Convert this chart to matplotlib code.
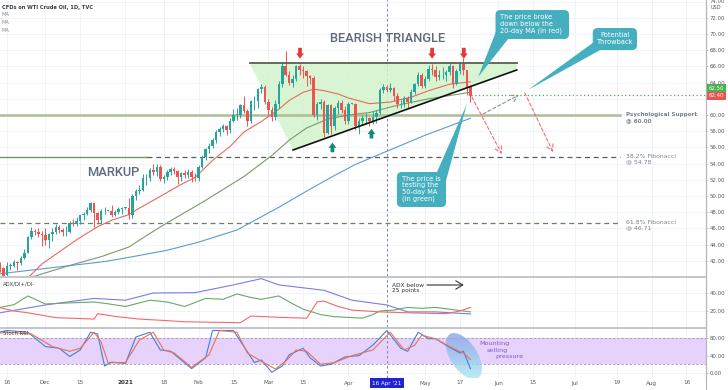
import numpy as np
import matplotlib
matplotlib.use("Agg")
import matplotlib.pyplot as plt
from matplotlib.patches import Polygon, Ellipse, FancyBboxPatch
from matplotlib.lines import Line2D
import matplotlib.transforms as mtrans
from matplotlib.colors import LinearSegmentedColormap

plt.rcParams['font.family'] = ['DejaVu Sans']

# ---------------- data ----------------
# one bar per weekday; bar 0 = 16 Nov 2020, candles start on 12 Nov 2020 (bar -2)
first_bar = -2
opens = [41.4, 41.1, 40.2, 41.4, 41.4, 41.8, 41.7, 42.4, 43.0, 44.9,
         45.7, 45.5, 45.3, 45.2, 44.6, 45.3, 45.6, 46.2, 45.8, 45.5,
         45.6, 46.7, 46.6, 46.9, 47.6, 47.8, 48.3, 49.1, 47.9, 47.0,
         48.1, 48.2, 48.2, 47.6, 48.0, 48.4, 48.5, 48.5, 47.6, 50.0,
         50.6, 50.8, 52.2, 52.2, 53.2, 52.9, 53.6, 52.1, 52.4, 53.0,
         53.3, 53.1, 52.3, 52.8, 52.6, 52.9, 52.4, 52.2, 53.6, 54.8,
         55.8, 56.2, 56.9, 57.9, 58.3, 58.6, 58.2, 59.3, 60.0, 60.0,
         61.2, 60.5, 59.3, 61.7, 61.7, 63.2, 63.5, 61.6, 60.6, 59.8,
         61.3, 63.8, 66.1, 65.0, 64.0, 64.4, 66.0, 65.6, 65.4, 64.8,
         64.6, 60.0, 61.4, 61.6, 57.8, 61.2, 58.6, 60.9, 61.5, 60.6,
         59.2, 61.4, 61.4, 58.6, 59.3, 59.6, 59.6, 59.3, 59.7, 60.2,
         63.1, 63.4, 63.1, 63.3, 62.4, 61.3, 61.4, 62.1, 61.6, 62.9,
         63.8, 65.0, 63.6, 64.5, 65.7, 65.6, 64.7, 64.9, 64.9, 65.3,
         66.1, 63.8, 65.4, 66.3, 65.5, 63.4]
highs = [41.8, 41.2, 41.8, 41.7, 42.1, 42.0, 42.6, 43.4, 45.1, 46.2,
         45.9, 46.0, 45.7, 46.0, 45.4, 46.0, 46.5, 46.4, 46.0, 46.3,
         46.9, 47.2, 47.4, 47.7, 48.0, 48.6, 49.3, 49.2, 48.0, 48.4,
         48.6, 48.3, 48.9, 48.3, 48.6, 48.6, 48.6, 49.8, 50.2, 50.9,
         51.3, 52.7, 52.7, 53.5, 53.9, 54.0, 53.8, 52.6, 53.2, 53.6,
         53.6, 53.2, 53.0, 53.2, 53.3, 53.2, 52.9, 53.8, 55.0, 55.9,
         56.6, 57.2, 58.1, 58.5, 58.9, 58.8, 59.6, 60.8, 60.9, 61.3,
         62.3, 60.8, 61.9, 62.3, 63.3, 63.8, 63.7, 62.0, 61.0, 61.8,
         64.2, 66.4, 67.9, 65.4, 64.9, 66.2, 66.3, 66.1, 65.6, 65.0,
         64.8, 61.6, 62.0, 61.8, 61.4, 61.3, 61.1, 61.8, 61.9, 61.1,
         61.6, 61.5, 61.5, 59.6, 60.0, 60.2, 59.8, 60.5, 60.6, 63.3,
         63.8, 63.7, 64.0, 63.4, 62.7, 61.8, 62.4, 62.3, 63.2, 64.0,
         65.3, 65.2, 64.8, 66.2, 66.3, 66.0, 65.5, 65.9, 65.6, 66.6,
         66.2, 65.7, 66.6, 67.0, 65.6, 63.7]
lows = [40.6, 39.8, 40.0, 40.9, 41.2, 40.9, 41.5, 42.2, 42.9, 44.7,
        45.2, 44.9, 43.8, 44.0, 43.6, 44.4, 45.3, 45.4, 45.1, 45.0,
        45.4, 46.3, 46.3, 46.5, 47.0, 47.6, 48.0, 46.2, 46.6, 46.6,
        47.8, 48.1, 47.4, 47.5, 47.8, 47.8, 48.4, 47.2, 47.3, 49.5,
        50.3, 50.6, 51.3, 51.9, 52.6, 52.5, 51.8, 51.6, 52.0, 52.6,
        52.7, 51.5, 51.9, 52.2, 52.2, 51.7, 51.8, 51.9, 53.4, 54.4,
        55.3, 55.9, 56.6, 57.4, 57.9, 57.5, 57.8, 59.1, 59.4, 59.6,
        60.2, 58.6, 59.0, 60.6, 60.9, 62.7, 61.3, 60.0, 59.2, 59.4,
        60.9, 63.5, 64.8, 63.7, 63.5, 64.2, 64.9, 64.6, 63.6, 63.8,
        59.8, 59.4, 60.7, 57.3, 57.6, 57.7, 58.2, 60.1, 60.3, 58.9,
        58.9, 61.3, 58.2, 57.7, 58.8, 58.9, 58.7, 58.9, 59.0, 60.1,
        62.7, 62.8, 62.9, 61.7, 60.9, 60.9, 61.0, 60.9, 61.5, 62.6,
        63.6, 63.3, 63.3, 64.2, 64.9, 64.2, 64.3, 64.5, 64.2, 65.0,
        63.3, 63.7, 65.1, 64.9, 62.5, 61.6]
closes = [41.1, 40.1, 41.4, 41.4, 41.8, 41.7, 42.4, 43.0, 44.9, 45.7,
          45.5, 45.3, 45.2, 44.6, 45.3, 45.6, 46.2, 45.8, 45.5, 45.6,
          46.7, 46.6, 46.9, 47.6, 47.8, 48.3, 49.1, 47.9, 47.0, 48.1,
          48.2, 48.2, 47.6, 48.0, 48.4, 48.5, 48.5, 47.6, 50.0, 50.6,
          50.8, 52.2, 52.2, 53.2, 52.9, 53.6, 52.1, 52.4, 53.0, 53.3,
          53.1, 52.3, 52.8, 52.6, 52.9, 52.4, 52.2, 53.6, 54.8, 55.8,
          56.2, 56.9, 57.9, 58.3, 58.6, 58.2, 59.3, 60.0, 60.0, 61.2,
          60.5, 59.3, 61.7, 61.7, 63.2, 63.5, 61.6, 60.6, 59.8, 61.3,
          63.8, 66.1, 65.0, 64.0, 64.4, 66.0, 65.6, 65.4, 64.8, 64.6,
          60.0, 61.4, 61.6, 57.8, 61.2, 58.6, 60.9, 61.5, 60.6, 59.2,
          61.4, 61.4, 58.6, 59.3, 59.6, 59.6, 59.3, 59.7, 60.2, 63.1,
          63.4, 63.1, 63.3, 62.4, 61.3, 61.4, 62.1, 61.6, 62.9, 63.8,
          65.0, 63.6, 64.5, 65.7, 65.6, 64.7, 64.9, 64.9, 65.3, 66.1,
          63.8, 65.4, 66.3, 65.5, 63.4, 62.4]

# moving averages (read at sample bars)
ma20_bars = [5, 7, 10, 15, 20, 26, 30, 35, 38, 43, 49, 54, 59, 64, 68, 73, 76, 78,
             81, 85, 88, 91, 95, 98, 104, 110, 116, 121, 127, 133]
ma20 = [39.6, 40.3, 41.6, 43.1, 44.6, 46.2, 47.0, 47.7, 48.5, 49.7, 51.2, 52.3, 54.4,
        56.1, 57.9, 59.2, 60.1, 60.7, 61.8, 62.8, 63.2, 63.0, 62.6, 62.1, 61.4, 61.6,
        62.2, 63.0, 63.8, 64.1]
ma50_bars = [0, 8, 17, 27, 35, 40, 46, 52, 56, 62, 68, 76, 81, 86, 92, 98, 104, 112, 121, 133]
ma50 = [39.8, 40.1, 41.3, 42.5, 43.7, 45.1, 46.7, 48.2, 49.2, 50.8, 52.4, 55.0, 56.9,
        58.4, 59.5, 60.0, 60.3, 61.2, 62.0, 62.8]
ma100_bars = [-2, 10, 18, 28, 36, 46, 55, 66, 72, 78, 86, 93, 100, 110, 120, 133]
ma100 = [40.4, 41.0, 41.4, 41.9, 42.5, 43.3, 44.3, 45.8, 47.2, 48.6, 50.6, 52.3, 53.9,
         55.7, 57.5, 59.6]

# ADX / DI+ / DI-
adx_bars = [-2, 11, 25, 34, 42, 54, 65, 73, 78, 91, 99, 109, 115, 123, 133]
adx = [18, 26.7, 34, 32, 40, 40.4, 49, 56, 49, 43, 32, 26.7, 19, 19, 16.7]
dip_bars = [-2, 2, 6, 11, 18, 25, 29, 34, 41, 46, 51, 57, 62, 66, 70, 73, 78, 82, 85,
            90, 94, 102, 105, 107, 111, 115, 119, 123, 127, 133]
dip = [24, 27, 36.7, 27.8, 29, 30, 28, 25, 32, 30, 25, 34, 33, 38.9, 35, 33, 36.7, 28,
       22, 16, 13.7, 12, 16, 20, 21, 24, 23, 24, 22, 19]
dim_bars = [-2, 2, 6, 14, 25, 26, 31, 38, 45, 51, 59, 67, 70, 78, 86, 89, 91, 95, 99,
            107, 115, 126, 130, 133]
dim = [23.7, 20, 18, 12.6, 11, 17, 14, 11, 9.5, 8, 7.5, 7, 14.4, 13, 12, 30, 31, 25, 21,
       19, 18, 17, 20, 24]

# Stoch RSI
k_bars = [-2, 0, 6, 11, 15, 18, 21, 24, 26, 28, 30, 34, 37, 41, 44, 47, 53, 57, 59, 65,
          68, 71, 73, 76, 79, 81, 85, 87, 90, 93, 97, 101, 105, 109, 113, 115, 118, 121,
          123, 126, 130, 131, 133]
stoch_k = [95, 98, 94, 61, 57, 38, 53, 94, 90, 16, 25, 22, 83, 94, 53, 50, 10, 35, 98, 98,
           61, 24, 30, 1.5, 16, 42, 57, 35, 16, 20, 37, 40, 64, 98, 57, 50, 94, 79, 79, 64,
           46, 50, 10]
d_bars = [-2, 0, 7, 13, 18, 21, 25, 27, 29, 34, 38, 42, 45, 48, 53, 58, 61, 66, 69, 73,
          77, 80, 83, 86, 90, 94, 99, 105, 110, 114, 117, 119, 123, 127, 131, 133]
stoch_d = [92, 94, 90, 61, 50, 57, 94, 72, 24, 24, 76, 94, 53, 46, 13, 42, 98, 94, 46, 27,
           9, 27, 53, 50, 20, 24, 40, 53, 94, 53, 64, 87, 79, 61, 46, 31]

# axis labels
tick_bars = [0, 11, 21, 34, 45, 55, 65, 75, 85, 98, 120, 130, 141, 151, 163, 175, 185, 195]
tick_labels = ['16', 'Dec', '15', '2021', '18', 'Feb', '15', 'Mar', '15', 'Apr', 'May',
               '17', 'Jun', '15', 'Jul', '19', 'Aug', '16']
marker_bar = 109
marker_label = "16 Apr '21"
price_ticks = [42, 44, 46, 48, 50, 52, 54, 56, 58, 60, 62, 64, 66, 68, 70, 72]
last_price = 62.40
ref_price = 62.50

# levels / pattern
support = 60.00
fib382 = 54.78
fib618 = 46.71
triangle_top = 66.38
trend_bars = [82.1, 146.3]
trend_prices = [55.68, 65.56]

# ---------------- layout ----------------
W, H = 728, 390
fig = plt.figure(figsize=(W / 100, H / 100), dpi=100)
fig.patch.set_facecolor('white')


def fpos(x0, y0, x1, y1):
    return [x0 / W, 1 - y1 / H, (x1 - x0) / W, (y1 - y0) / H]


XL = (-2.0, 200.6)
ax = fig.add_axes(fpos(0, 0, 706, 276))
axa = fig.add_axes(fpos(0, 277, 706, 327))
axs = fig.add_axes(fpos(0, 328, 706, 378))
ax.set_ylim(40.12, 74.2)
axa.set_ylim(2.2, 57.8)
axs.set_ylim(-11.7, 103.8)
GRID = '#eef1f6'
TXT = '#555a63'
AXFS = 3.9
for a in (ax, axa, axs):
    a.set_xlim(*XL)
    a.set_facecolor('white')
    for s in ('top', 'left', 'bottom'):
        a.spines[s].set_visible(False)
    a.spines['right'].set_color('#b2b5be')
    a.spines['right'].set_linewidth(0.8)
    a.yaxis.tick_right()
    a.tick_params(axis='y', labelsize=AXFS, colors=TXT, length=1.5, pad=1.2, width=0.5)
    a.tick_params(axis='y', color='#b2b5be')
    for tb in tick_bars + [marker_bar]:
        a.axvline(tb, color=GRID, lw=0.6, zorder=0)
    a.axvline(marker_bar, color='#6b6fd0', lw=0.6, ls=(0, (3, 3)), zorder=1)
    a.set_xticks([])

# separators
for yy in (276.5, 327.5):
    fig.add_artist(Line2D([0, 706 / W], [1 - yy / H] * 2, transform=fig.transFigure,
                          color='#b8bbc2', lw=1.2))
fig.add_artist(Line2D([706 / W] * 2, [0, 1], transform=fig.transFigure, color='#b2b5be', lw=0.8))

# ---------------- main price panel ----------------
ax.set_yticks(price_ticks)
ax.set_yticklabels(['' if p == 62 else f'{p:.2f}' for p in price_ticks])
for p in price_ticks + [74]:
    ax.axhline(p, color=GRID, lw=0.6, zorder=0)

# triangle fill & lines
tri = Polygon([(69.7, triangle_top), (trend_bars[1], triangle_top),
               (trend_bars[1], trend_prices[1]), (trend_bars[0], trend_prices[0])],
              closed=True, fc='#d2f3ca', ec='none', alpha=0.85, zorder=1)
ax.add_patch(tri)
ax.plot([69.7, trend_bars[1]], [triangle_top] * 2, color='#56604f', lw=1.3, zorder=6)
ax.plot(trend_bars, trend_prices, color='#111111', lw=1.2, zorder=6)

# horizontal levels
lvl_end = 175.9
ax.plot([XL[0], lvl_end], [support] * 2, color='#abbe95', lw=1.8, zorder=2)
ax.plot([XL[0], 40.2], [fib382] * 2, color='#6f9a5c', lw=1.0, zorder=2)
ax.plot([40.2, lvl_end], [fib382] * 2, color='#5b5f5b', lw=0.9, ls=(0, (4, 3)), zorder=2)
ax.plot([XL[0], lvl_end], [fib618] * 2, color='#6f7f68', lw=0.9, ls=(0, (4, 3)), zorder=2)

# moving averages
ax.plot(ma100_bars, ma100, color='#5b9bd8', lw=0.8, zorder=3)
ax.plot(ma50_bars, ma50, color='#7a9a6a', lw=0.8, zorder=3)
ax.plot(ma20_bars, ma20, color='#e86a5e', lw=0.8, zorder=3)

# candles
o = np.array(opens); h = np.array(highs); l = np.array(lows); c = np.array(closes)
bars = np.arange(first_bar, first_bar + len(c))
col = np.where(c >= o, '#26a69a', '#ef5350')
ax.vlines(bars, l, h, colors=col, lw=0.7, zorder=4)
ax.bar(bars, np.maximum(np.abs(c - o), 0.08), bottom=np.minimum(o, c), width=0.72,
       color=col, linewidth=0, zorder=5)

# green dotted reference line
ax.plot([bars[-1] + 0.3, XL[1]], [ref_price] * 2, color='#4caf50', lw=0.9,
        ls=(0, (1, 2)), zorder=3)

# arrows marking touches
def mark(x, ytail, ytip, color):
    ax.annotate('', xy=(x, ytip), xytext=(x, ytail),
                arrowprops=dict(arrowstyle='simple,head_length=0.38,head_width=0.56,tail_width=0.27',
                                fc=color, ec='none', shrinkA=0, shrinkB=0), zorder=8)

for xb in (84.1, 122.0, 131.1):
    mark(xb, 68.3, 66.95, '#e53935')
mark(93.4, 55.4, 56.6, '#13897a')
mark(104.6, 57.1, 58.3, '#13897a')

# projected paths
def dash_arrow(p0, p1, color):
    ax.annotate('', xy=p1, xytext=p0,
                arrowprops=dict(arrowstyle='->,head_length=0.45,head_width=0.25', color=color,
                                lw=0.8, ls=(0, (3, 2)), shrinkA=0, shrinkB=0), zorder=7)

dash_arrow((133.4, 62.22), (142.0, 55.19), '#f07070')
dash_arrow((148.6, 62.72), (156.7, 55.43), '#f07070')
dash_arrow((136.6, 60.12), (146.9, 62.47), '#8a9a8a')

# big labels
TITLE_C = '#5d6a7a'
ax.text(109.3, 69.47, 'BEARISH TRIANGLE', ha='center', va='center', fontsize=9.3,
        color=TITLE_C, family='Roboto', weight='medium', zorder=9)
ax.text(30.4, 52.96, 'MARKUP', ha='center', va='center', fontsize=9.3,
        color=TITLE_C, family='Roboto', weight='medium', zorder=9)

# level labels
LBL = '#7b828e'
ax.text(177.6, 59.7, 'Psychological Support\n@ 60.00', fontsize=4.1, color=LBL, weight='bold',
        va='center', ha='left', linespacing=1.1, zorder=9)
ax.text(177.6, 54.5, '38.2% Fibonacci\n@ 54.78', fontsize=4.4, color=LBL,
        va='center', ha='left', linespacing=1.1, zorder=9)
ax.text(177.6, 46.36, '61.8% Fibonacci\n@ 46.71', fontsize=4.4, color=LBL,
        va='center', ha='left', linespacing=1.1, zorder=9)

# callouts
CALL = '#46afbf'
asp = 3.485 / 8.1


def callout(box, tail, text, tx, ty, ha='left'):
    x0, x1, y0, y1 = box
    p = FancyBboxPatch((x0, y0), x1 - x0, y1 - y0, boxstyle='round,pad=0,rounding_size=1.4',
                       mutation_aspect=asp, fc=CALL, ec='none', zorder=10)
    ax.add_patch(p)
    ax.add_patch(Polygon(tail, closed=True, fc=CALL, ec='none', zorder=10))
    ax.text(tx, ty, text, ha=ha, va='center', fontsize=4.8, color='white',
            linespacing=1.15, zorder=11)


callout((140.2, 161.3, 69.38, 72.96), [(140.9, 70.9), (143.8, 69.38), (135.2, 64.69)],
        'The price broke\ndown below the\n20-day MA (in red)', 141.5, 71.2)
callout((168.1, 180.8, 68.02, 70.74), [(168.1, 68.9), (170.2, 68.02), (149.5, 63.09)],
        'Potential\nThrowback', 174.45, 69.4, ha='center')
callout((111.9, 126.0, 48.64, 52.96), [(123.4, 52.96), (126.0, 51.9), (132.0, 61.36)],
        'The price is\ntesting the\n50-day MA\n(in green)', 113.4, 50.85)

# price labels on axis
bl = mtrans.blended_transform_factory(ax.transAxes, ax.transData)
ax.text(1.0 + 2.5 / 706, 63.33, f'{ref_price:.2f}', transform=bl, fontsize=AXFS, color='white',
        va='center', ha='left', clip_on=False, zorder=12,
        bbox=dict(boxstyle='square,pad=0.35', fc='#4caf50', ec='none'))
ax.text(1.0 + 2.5 / 706, 62.35, f'{last_price:.2f}', transform=bl, fontsize=AXFS, color='white',
        va='center', ha='left', clip_on=False, zorder=12,
        bbox=dict(boxstyle='square,pad=0.35', fc='#ef5350', ec='none'))
fig.text(709.5 / W, 1 - 1.5 / H, '74.00', fontsize=AXFS, color=TXT, va='center', ha='left')
fig.text(711 / W, 1 - 7.5 / H, 'USD', fontsize=3.6, color=TXT, va='center', ha='left')

# header
fig.text(2 / W, 1 - 7 / H, 'CFDs on WTI Crude Oil, 1D, TVC', fontsize=3.7, weight='bold',
         color='#3b3e45', va='center', ha='left')
for yy in (15, 23, 30.5):
    fig.text(2 / W, 1 - yy / H, 'MA', fontsize=3.7, color='#8a8e96', va='center', ha='left')

# ---------------- ADX panel ----------------
axa.set_yticks([20, 40])
axa.set_yticklabels(['20.00', '40.00'])
for v in (20, 40):
    axa.axhline(v, color=GRID, lw=0.6, zorder=0)
axa.plot(adx_bars, adx, color='#7b7be8', lw=0.8)
axa.plot(dip_bars, dip, color='#6aa86a', lw=0.8)
axa.plot(dim_bars, dim, color='#f06a6a', lw=0.8)
axa.text(-1.2, 50.5, 'ADX/DI+/DI-', fontsize=3.8, color='#444', va='center', ha='left')
axa.text(110.4, 45.4, 'ADX below\n25 points', fontsize=4.2, color='#333', va='center', ha='left',
         linespacing=1.15)
axa.annotate('', xy=(131.1, 48.9), xytext=(120.5, 48.9),
             arrowprops=dict(arrowstyle='->,head_length=0.5,head_width=0.3', color='#333',
                             lw=0.8, shrinkA=0, shrinkB=0))

# ---------------- Stoch RSI panel ----------------
axs.set_yticks([0, 40, 80])
axs.set_yticklabels(['0.00', '40.00', '80.00'])
for v in (0, 40, 80):
    axs.axhline(v, color=GRID, lw=0.6, zorder=0)
axs.axhspan(20, 80, color='#e6d2fa', zorder=0.5, lw=0)
for v in (20, 80):
    axs.axhline(v, color='#a094b8', lw=0.6, ls=(0, (3, 2)), zorder=1)

ell = Ellipse((0, 0), width=0.52, height=0.27, angle=-57,
              transform=fig.dpi_scale_trans + mtrans.ScaledTranslation(131.1, 38.9, axs.transData))
cmap = LinearSegmentedColormap.from_list('g', ['#8aa0ea', '#a6e8ef'])
grad = np.linspace(0, 1, 100).reshape(-1, 1)
im = axs.imshow(grad, extent=[120, 142, -12, 95], aspect='auto', cmap=cmap, alpha=0.8,
                zorder=1.5, origin='upper')
im.set_clip_path(ell)
axs.set_xlim(*XL)
axs.set_ylim(-11.7, 103.8)

axs.plot(k_bars, stoch_k, color='#3f80e0', lw=0.8, zorder=3)
axs.plot(d_bars, stoch_d, color='#f07050', lw=0.8, zorder=3)
axs.text(-1.2, 91, 'Stoch RSI', fontsize=3.8, color='#444', va='center', ha='left', zorder=4)
PUR = '#7a5cc7'
axs.text(135.7, 69, 'Mounting', fontsize=4.6, color=PUR, va='center', ha='left', zorder=4)
axs.text(137.6, 52.5, 'selling', fontsize=4.6, color=PUR, va='center', ha='left', zorder=4)
axs.text(140.3, 38, 'pressure', fontsize=4.6, color=PUR, va='center', ha='left', zorder=4)

# date axis
bt = mtrans.blended_transform_factory(axs.transData, axs.transAxes)
for tb, lab in zip(tick_bars, tick_labels):
    axs.text(tb, -0.1, lab, transform=bt, fontsize=4.1, color=TXT if lab != '2021' else '#333',
             weight='bold' if lab == '2021' else 'normal', ha='center', va='center', clip_on=False)
axs.text(marker_bar, -0.1, marker_label, transform=bt, fontsize=4.1, color='white', ha='center',
         va='center', clip_on=False, zorder=12,
         bbox=dict(boxstyle='square,pad=0.4', fc='#2323d6', ec='none'))

fig.savefig('out.png', dpi=100, facecolor='white')
